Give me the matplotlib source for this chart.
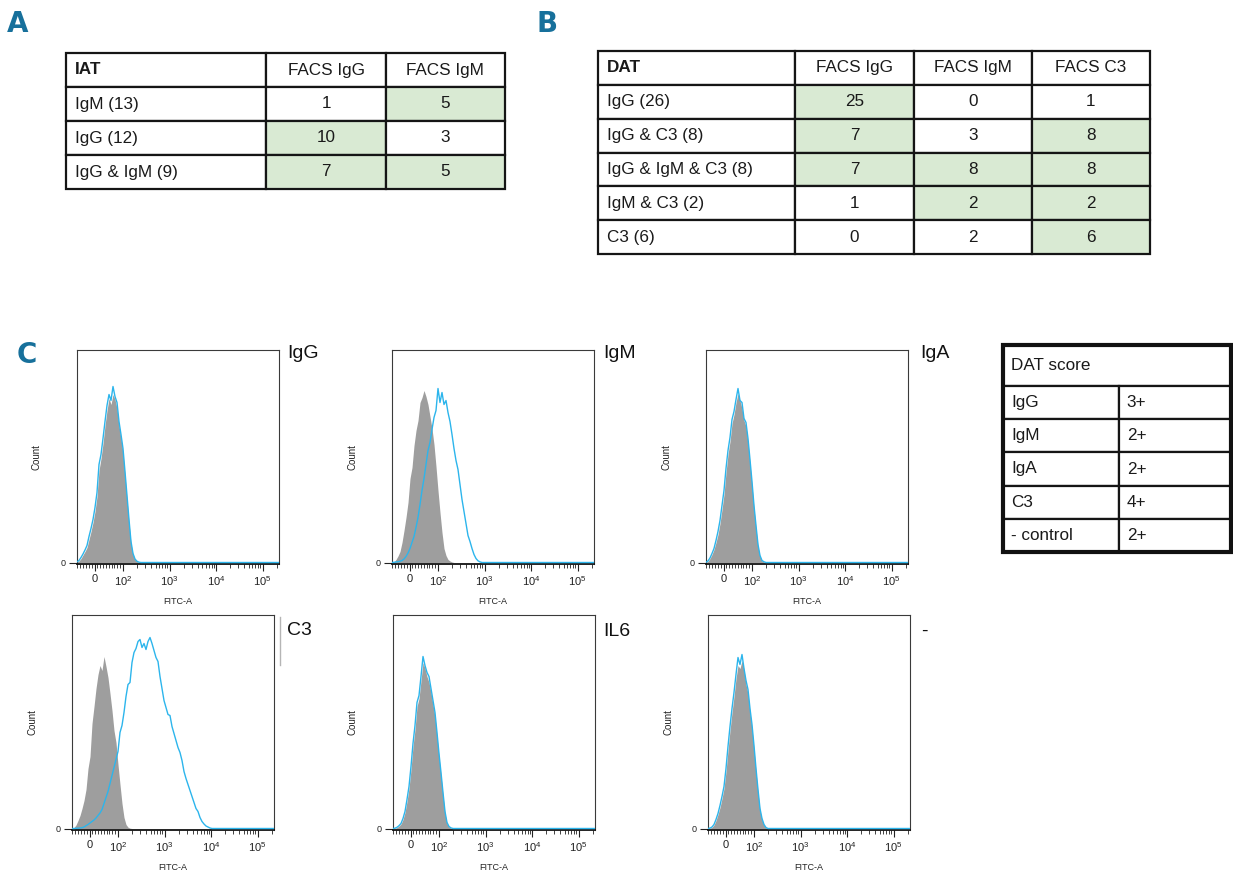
import numpy as np
import matplotlib
matplotlib.use("Agg")
import matplotlib.pyplot as plt
from matplotlib.scale import SymmetricalLogTransform
from matplotlib.ticker import FixedLocator, NullFormatter
from matplotlib.patches import Rectangle
from matplotlib.lines import Line2D
from matplotlib import font_manager

plt.rcParams['font.family'] = ['Liberation Sans', 'DejaVu Sans']
plt.rcParams['mathtext.fontset'] = 'custom'
plt.rcParams['mathtext.rm'] = 'Liberation Sans'
plt.rcParams['mathtext.it'] = 'Liberation Sans:italic'
plt.rcParams['mathtext.bf'] = 'Liberation Sans:bold'

# ------------------------------------------------------------------ data
iat_columns = ["IAT", "FACS IgG", "FACS IgM"]
iat_rows = ["IgM (13)", "IgG (12)", "IgG & IgM (9)"]
iat_facs_igg = [1, 10, 7]
iat_facs_igm = [5, 3, 5]
iat_positive = [[False, True], [True, False], [True, True]]

dat_columns = ["DAT", "FACS IgG", "FACS IgM", "FACS C3"]
dat_rows = ["IgG (26)", "IgG & C3 (8)", "IgG & IgM & C3 (8)", "IgM & C3 (2)", "C3 (6)"]
dat_facs_igg = [25, 7, 7, 1, 0]
dat_facs_igm = [0, 3, 8, 2, 2]
dat_facs_c3 = [1, 8, 8, 2, 6]
dat_positive = [[True, False, False], [True, False, True], [True, True, True],
                [False, True, True], [False, False, True]]

score_title = "DAT score"
score_labels = ["IgG", "IgM", "IgA", "C3", "- control"]
score_values = ["3+", "2+", "2+", "4+", "2+"]

panel_names = ["IgG", "IgM", "IgA", "C3", "IL6", "-"]
tick_values = [0, 1e2, 1e3, 1e4, 1e5]
tick_labels = ["0", r"$10^{2}$", r"$10^{3}$", r"$10^{4}$", r"$10^{5}$"]

# counts per display channel (channel 0 = left edge of the FITC-A axis)
ctrl_igg = [0.5, 1.5, 4, 7.5, 11, 15, 23, 31, 40, 51, 66, 92, 104, 119, 137, 152, 164, 158,
            168, 163, 154, 137, 124, 110, 87, 63, 40, 19, 8, 3, 1, 0.2]
stain_igg = [0.7, 2, 5, 8.5, 12.5, 17, 26, 34, 43, 55, 70, 98, 108, 124, 141, 157, 168, 162,
             176, 166, 160, 141, 128, 114, 91, 67, 43, 21, 9, 3.5, 1.2, 0.3]
ctrl_igm = [0, 0.5, 3, 6.5, 11, 20, 32, 45, 60, 84, 95, 117, 132, 142, 160, 165, 172, 166,
            158, 146, 134, 118, 96, 72, 50, 30, 14, 7, 3, 1.5, 0.5, 0]
stain_igm = [0, 0.2, 0.5, 0.8, 1.2, 2, 3.5, 6, 9.5, 14, 20, 26, 35, 45, 58, 72, 84, 98, 112,
             120, 133, 145, 152, 174, 160, 170, 158, 162, 150, 141, 128, 114, 102, 93, 78, 63,
             51, 39, 27, 21, 14, 8, 4, 1.7, 0.6, 0]
ctrl_iga = [0.2, 1.2, 4, 8, 13, 20, 28, 39, 53, 68, 90, 108, 121, 139, 148, 160, 169, 162,
            154, 142, 136, 120, 99, 77, 54, 34, 16, 6, 1.7, 0.5, 0]
stain_iga = [0.3, 1.5, 4.5, 9, 14, 22, 31, 42, 57, 72, 94, 112, 125, 143, 151, 163, 174, 162,
             160, 144, 140, 124, 103, 81, 57, 37, 18, 7, 2, 0.7, 0]
ctrl_c3 = [0, 1, 3.5, 8, 13, 20, 28, 39, 60, 72, 105, 122, 140, 154, 163, 158, 172, 162, 151,
           135, 118, 98, 86, 64, 44, 25, 11, 4, 1.3, 0.3, 0]
stain_c3 = [0, 0, 0.2, 0.3, 0.5, 0.8, 1.5, 2.8, 4, 5.5, 7, 8.5, 10.5, 13, 15.5, 19, 25, 31, 37,
            45, 53, 61, 69, 77, 96, 103, 116, 132, 144, 146, 166, 176, 180, 187, 189, 181, 185,
            179, 187, 191, 185, 178, 171, 167, 152, 140, 128, 121, 114, 113, 102, 95, 88, 81,
            76, 68, 57, 50, 44, 38, 32, 26, 20, 17, 11, 7, 4.5, 2.5, 1.5, 0.5, 0]
ctrl_il6 = [0, 0.2, 1, 2.5, 4.5, 9, 16, 27, 40, 59, 82, 99, 122, 130, 148, 166, 160, 152, 146,
            136, 124, 112, 92, 72, 53, 33, 15, 5, 1.6, 0.4, 0]
stain_il6 = [0, 0.3, 1.2, 2.8, 5, 10, 17, 29, 42, 62, 85, 103, 126, 133, 152, 172, 163, 156,
             152, 140, 128, 116, 96, 75, 56, 36, 17, 6, 2, 0.6, 0]
ctrl_neg = [0, 0.3, 1.2, 3.5, 8, 14, 21, 30, 40, 57, 78, 98, 116, 132, 150, 163, 160, 168, 159,
            144, 135, 116, 100, 79, 57, 36, 18, 9, 3.5, 0.8, 0]
stain_neg = [0, 0.4, 1.5, 4, 9, 15, 23, 32, 42, 60, 82, 102, 120, 136, 154, 171, 164, 174, 160,
             148, 139, 120, 104, 83, 60, 39, 20, 10, 4, 1, 0]

controls = [ctrl_igg, ctrl_igm, ctrl_iga, ctrl_c3, ctrl_il6, ctrl_neg]
stained = [stain_igg, stain_igm, stain_iga, stain_c3, stain_il6, stain_neg]

# ------------------------------------------------------------------ layout
W, H = 1233, 874
fig = plt.figure(figsize=(W / 100, H / 100), dpi=100)


def rect(x, y, w, h):
    return [x / W, 1 - (y + h) / H, w / W, h / H]


TXT = '#1a1a1a'
GREEN = '#d9ead3'
LABEL_BLUE = '#17709b'
GREY_FILL = '#9e9e9e'
BLUE_LINE = '#2cb5ec'

installed = {f.name for f in font_manager.fontManager.ttflist}
letter_family = ['Liberation Sans Narrow'] if 'Liberation Sans Narrow' in installed else ['DejaVu Sans']

# panel letters
for letter, (x, y) in zip(["A", "B", "C"], [(18, 24), (547, 24), (27, 355)]):
    fig.text(x / W, 1 - y / H, letter, color=LABEL_BLUE, fontsize=20, fontweight='bold',
             family=letter_family, ha='center', va='center')


def make_table(r, cells, colours, col_w, row_h=None, pad=0.045, bold_first=True):
    ax = fig.add_axes(rect(*r))
    ax.axis('off')
    tbl = ax.table(cellText=cells, cellColours=colours, colWidths=col_w,
                   cellLoc='center', bbox=[0, 0, 1, 1])
    tbl.auto_set_font_size(False)
    tbl.set_fontsize(12.3)
    for (ri, ci), cell in tbl.get_celld().items():
        cell.set_linewidth(1.6)
        cell.set_edgecolor('#151515')
        cell.get_text().set_color(TXT)
        if row_h is not None:
            cell.set_height(row_h[ri])
        if ci == 0:
            cell.PAD = pad
            cell.set_text_props(ha='left')
        if ri == 0 and ci == 0 and bold_first:
            cell.set_text_props(fontweight='bold')
    return ax, tbl


# table A
cellsA = [iat_columns] + [[r, str(a), str(b)] for r, a, b in zip(iat_rows, iat_facs_igg, iat_facs_igm)]
colsA = [['white'] * 3] + [['white'] + [GREEN if p else 'white' for p in row] for row in iat_positive]
make_table((66, 53, 439, 136), cellsA, colsA, [200, 119, 119])

# table B
cellsB = [dat_columns] + [[r, str(a), str(b), str(c)] for r, a, b, c in
                          zip(dat_rows, dat_facs_igg, dat_facs_igm, dat_facs_c3)]
colsB = [['white'] * 4] + [['white'] + [GREEN if p else 'white' for p in row] for row in dat_positive]
make_table((598, 51, 552, 203), cellsB, colsB, [197, 118, 118, 118])

# DAT score table
cellsS = [[score_title, ""]] + [[a, b] for a, b in zip(score_labels, score_values)]
colsS = [['white'] * 2 for _ in cellsS]
axS, tblS = make_table((1003, 345, 228, 207), cellsS, colsS, [116, 112],
                       row_h=[41] + [33.2] * 5, pad=0.07, bold_first=False)
for (ri, ci), cell in tblS.get_celld().items():
    if ci == 1:
        cell.PAD = 0.07
        cell.set_text_props(ha='left')
    if ri == 0:
        cell.visible_edges = 'BTL' if ci == 0 else 'BTR'
axS.add_patch(Rectangle((0, 0), 1, 1, transform=axS.transAxes, fill=False, lw=3,
                        edgecolor='#111111', clip_on=False))

# ------------------------------------------------------------------ histograms
LINTHRESH, LINSCALE = 100, 0.552
XLIM = (-61.4, 2.26e5)
N_CH = 102
tr = SymmetricalLogTransform(10, LINTHRESH, LINSCALE)
t0, t1 = tr.transform(np.array(XLIM, dtype=float))
fitc = tr.inverted().transform(np.linspace(t0, t1, N_CH))

minor_ticks = ([v for v in range(-60, 100, 10) if v != 0] +
               [k * 10 ** d for d in (2, 3, 4) for k in range(2, 10)] + [2e5])

hist_rects = [(77, 350, 202, 214), (392, 350, 202, 214), (706, 350, 202, 214),
              (72, 615, 202, 215), (393, 615, 202, 215), (708, 615, 202, 215)]
name_pos = [(287, 345), (603, 345), (920, 345), (287, 622), (603, 623), (921, 623)]

for i, (r, name) in enumerate(zip(hist_rects, panel_names)):
    ax = fig.add_axes(rect(*r))
    ax.set_xscale('symlog', linthresh=LINTHRESH, linscale=LINSCALE, base=10)
    ctrl = np.pad(np.asarray(controls[i], float), (0, N_CH - len(controls[i])))
    stain = np.pad(np.asarray(stained[i], float), (0, N_CH - len(stained[i])))
    ax.fill_between(fitc, ctrl, 0, color=GREY_FILL, lw=0, zorder=2)
    ax.plot(fitc, stain, color=BLUE_LINE, lw=1.0, zorder=3)
    ax.set_xlim(*XLIM)
    ax.set_ylim(-1.5, r[3] - 1.5)
    ax.set_xticks(tick_values)
    ax.set_xticklabels(tick_labels)
    ax.xaxis.set_minor_locator(FixedLocator(minor_ticks))
    ax.xaxis.set_minor_formatter(NullFormatter())
    ax.tick_params(axis='x', which='major', length=5, width=0.8, labelsize=8, pad=2.5,
                   colors='#222222')
    ax.tick_params(axis='x', which='minor', length=3, width=0.6, colors='#222222')
    ax.set_yticks([0])
    ax.set_yticklabels(["0"])
    ax.tick_params(axis='y', which='major', length=6, width=0.8, labelsize=6.5, pad=2,
                   colors='#222222')
    for s in ('top', 'right', 'left'):
        ax.spines[s].set_color('#3a3a3a')
        ax.spines[s].set_linewidth(0.8)
    ax.spines['bottom'].set_color('#111111')
    ax.spines['bottom'].set_linewidth(1.3)
    ax.set_xlabel("FITC-A", fontsize=6.5, color='#222222')
    ax.xaxis.set_label_coords(0.5, -33 / r[3])
    ax.set_ylabel("Count", fontsize=7, color='#222222')
    ax.yaxis.set_label_coords(-35 / r[2], 0.5)
    fig.text(name_pos[i][0] / W, 1 - name_pos[i][1] / H, name, fontsize=14,
             color='#111111', ha='left', va='top')

# thin grey mark beside the C3 panel (as in the original figure)
fig.add_artist(Line2D([280 / W, 280 / W], [1 - 617 / H, 1 - 665 / H], color='#b5b5b5', lw=1))

fig.savefig("out.png", dpi=100)
